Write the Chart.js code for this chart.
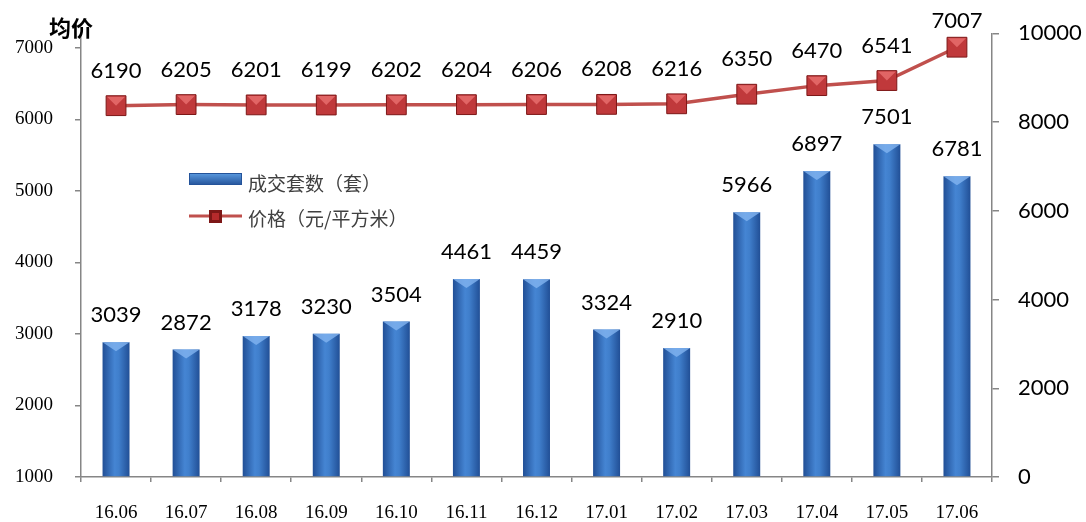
<!DOCTYPE html>
<html>
<head>
<meta charset="utf-8">
<script src="https://cdn.jsdelivr.net/npm/chart.js@4"></script>
<style>
  html, body { margin: 0; padding: 0; background: #fff; }
  #wrap { width: 1086px; height: 522px; }
</style>
</head>
<body>
<div id="wrap"><canvas id="priceChart" width="1086" height="522"></canvas></div>
<script>
// data
const months = ['16.06', '16.07', '16.08', '16.09', '16.10', '16.11', '16.12', '17.01', '17.02', '17.03', '17.04', '17.05', '17.06'];
const dealCounts = [3039, 2872, 3178, 3230, 3504, 4461, 4459, 3324, 2910, 5966, 6897, 7501, 6781];
const avgPrices = [6190, 6205, 6201, 6199, 6202, 6204, 6206, 6208, 6216, 6350, 6470, 6541, 7007];
const leftTicks = [1000, 2000, 3000, 4000, 5000, 6000, 7000];
const rightTicks = [0, 2000, 4000, 6000, 8000, 10000];

const AXIS_GREY = '#868686';
const NUM_FONT = "Lato, 'Open Sans', sans-serif";
const SERIF_FONT = "'Liberation Serif', 'DejaVu Serif', serif";
const CJK_FONT = "'Noto Sans CJK SC', sans-serif";

function barGradient(context) {
    const chart = context.chart;
    const xs = chart.scales.x;
    if (!xs || !chart.chartArea) return '#3a76c4';
    const cx = xs.getPixelForValue(context.dataIndex);
    const half = (chart.chartArea.width / months.length) * 0.385 / 2;
    const g = chart.ctx.createLinearGradient(cx - half, 0, cx + half, 0);
    g.addColorStop(0, '#214f96');
    g.addColorStop(0.45, '#4585d3');
    g.addColorStop(0.6, '#407fcc');
    g.addColorStop(1, '#214f96');
    return g;
}

// value labels + bevels + legend + title
const decorPlugin = {
    id: 'decor',
    afterDatasetsDraw(chart) {
        const ctx = chart.ctx;
        ctx.save();
        // bevel on bar tops
        const barMeta = chart.getDatasetMeta(1);
        barMeta.data.forEach(el => {
            const l = el.x - el.width / 2, r = el.x + el.width / 2;
            ctx.fillStyle = 'rgba(130,180,240,0.8)';
            ctx.beginPath();
            ctx.moveTo(l, el.y);
            ctx.lineTo(r, el.y);
            ctx.lineTo(el.x, el.y + 9);
            ctx.closePath();
            ctx.fill();
        });
        // bevel on markers: lighter top triangle
        const lineMeta = chart.getDatasetMeta(0);
        lineMeta.data.forEach(el => {
            const h = 9;
            ctx.fillStyle = 'rgba(240,120,120,0.7)';
            ctx.beginPath();
            ctx.moveTo(el.x - h, el.y - h);
            ctx.lineTo(el.x + h, el.y - h);
            ctx.lineTo(el.x, el.y);
            ctx.closePath();
            ctx.fill();
        });
        // labels
        ctx.fillStyle = '#000';
        ctx.font = '22px ' + NUM_FONT;
        ctx.textAlign = 'center';
        ctx.textBaseline = 'middle';
        barMeta.data.forEach((el, i) => {
            ctx.fillText(String(dealCounts[i]), el.x, el.y - 27);
        });
        lineMeta.data.forEach((el, i) => {
            ctx.fillText(String(avgPrices[i]), el.x, Math.max(el.y - 35, 21));
        });
        ctx.restore();
    },
    afterDraw(chart) {
        const ctx = chart.ctx;
        ctx.save();
        // title
        ctx.fillStyle = '#000';
        ctx.font = 'bold 22px ' + CJK_FONT;
        ctx.textAlign = 'left';
        ctx.textBaseline = 'middle';
        ctx.fillText('均价', 49, 28);

        // legend
        const g = ctx.createLinearGradient(0, 173, 0, 185);
        g.addColorStop(0, '#5b9be0');
        g.addColorStop(1, '#24539a');
        ctx.fillStyle = g;
        ctx.fillRect(189, 173, 52, 11);
        ctx.strokeStyle = '#24539a';
        ctx.lineWidth = 1;
        ctx.strokeRect(189.5, 173.5, 52, 11);

        ctx.strokeStyle = '#c0504d';
        ctx.lineWidth = 3;
        ctx.beginPath();
        ctx.moveTo(189, 216);
        ctx.lineTo(242, 216);
        ctx.stroke();
        ctx.fillStyle = '#b52a2c';
        ctx.fillRect(210, 211, 11, 11);
        ctx.strokeStyle = '#7d1717';
        ctx.strokeRect(210.5, 211.5, 10, 10);

        ctx.fillStyle = '#404040';
        ctx.font = '19px ' + CJK_FONT;
        ctx.fillText('成交套数（套）', 248, 184);
        ctx.fillText('价格（元/平方米）', 248, 219);
        ctx.restore();
    }
};

const ctx = document.getElementById('priceChart').getContext('2d');
window.priceChart = new Chart(ctx, {
    type: 'bar',
    data: {
        labels: months,
        datasets: [
            {
                type: 'line',
                label: '价格（元/平方米）',
                data: avgPrices,
                yAxisID: 'y',
                borderColor: '#c0504d',
                borderWidth: 3.5,
                tension: 0,
                pointStyle: 'rect',
                pointRadius: 14,
                pointBackgroundColor: '#c0393b',
                pointBorderColor: '#7d1717',
                pointBorderWidth: 1,
                order: 0
            },
            {
                type: 'bar',
                label: '成交套数（套）',
                data: dealCounts,
                yAxisID: 'y1',
                backgroundColor: barGradient,
                borderWidth: 0,
                barPercentage: 0.385,
                categoryPercentage: 1,
                order: 1
            }
        ]
    },
    options: {
        responsive: false,
        devicePixelRatio: 1,
        animation: false,
        layout: { padding: { top: 31, left: 0, right: 0, bottom: 0 } },
        plugins: {
            legend: { display: false },
            tooltip: { enabled: false }
        },
        scales: {
            x: {
                offset: true,
                afterFit: s => { s.height = 45; },
                grid: { drawOnChartArea: false, offset: true, tickLength: 5, color: AXIS_GREY, lineWidth: 1.5 },
                border: { color: AXIS_GREY, width: 1.5 },
                ticks: { color: '#000', padding: 20, font: { family: SERIF_FONT, size: 19 } }
            },
            y: {
                position: 'left',
                min: 1000,
                max: 7200,
                afterFit: s => { s.width = 81; },
                afterBuildTicks: s => { s.ticks = leftTicks.map(v => ({ value: v })); },
                grid: { drawOnChartArea: false, tickLength: 6, color: AXIS_GREY, lineWidth: 1.5 },
                border: { color: AXIS_GREY, width: 1.5 },
                ticks: { color: '#000', padding: 22, font: { family: SERIF_FONT, size: 19 }, callback: v => String(v) }
            },
            y1: {
                position: 'right',
                min: 0,
                max: 10000,
                afterFit: s => { s.width = 94; },
                afterBuildTicks: s => { s.ticks = rightTicks.map(v => ({ value: v })); },
                grid: { drawOnChartArea: false, tickLength: 7, color: AXIS_GREY, lineWidth: 1.5 },
                border: { color: AXIS_GREY, width: 1.5 },
                ticks: { color: '#000', padding: 19, font: { family: NUM_FONT, size: 22 }, callback: v => String(v) }
            }
        }
    },
    plugins: [decorPlugin]
});
</script>
</body>
</html>
